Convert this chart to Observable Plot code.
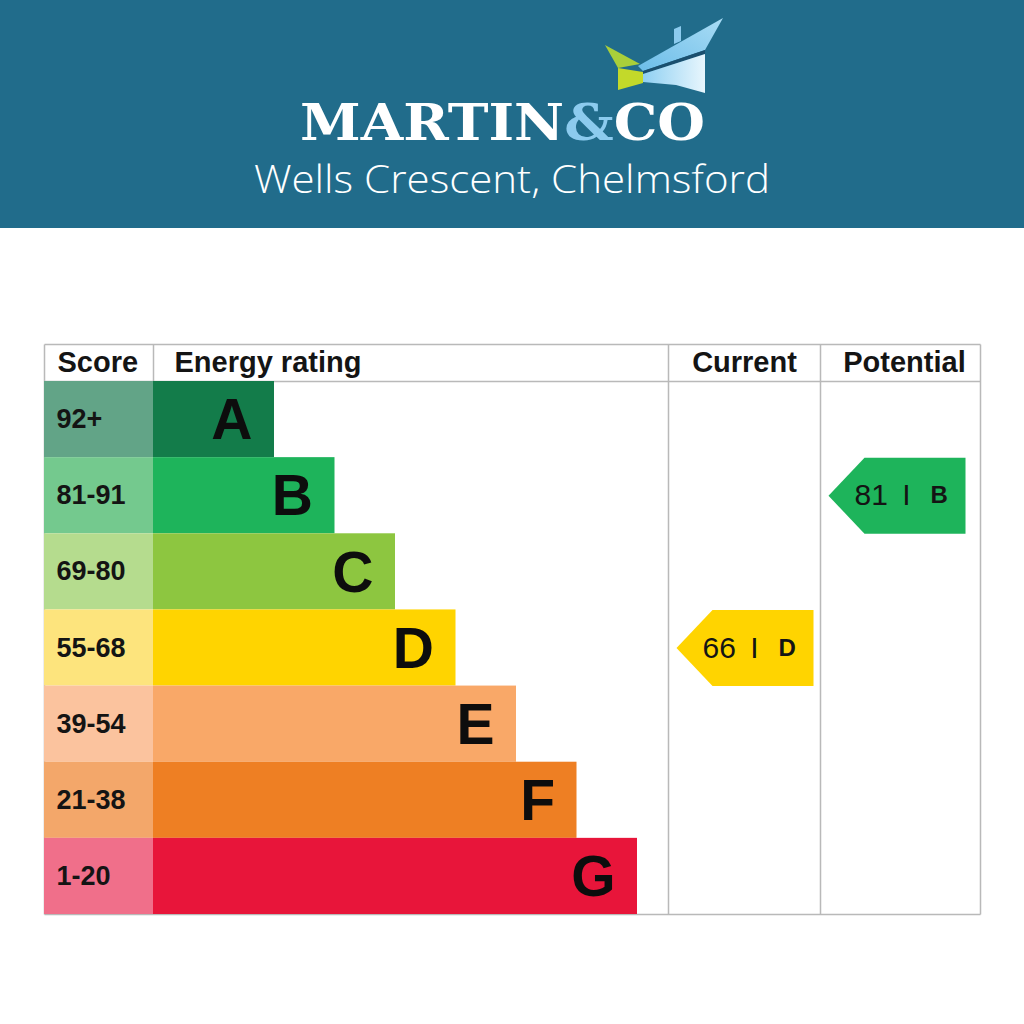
<!DOCTYPE html>
<html>
<head>
<meta charset="utf-8">
<script src="https://cdn.jsdelivr.net/npm/d3@7"></script>
<script src="https://cdn.jsdelivr.net/npm/@observablehq/plot@0.6"></script>
<style>
  html, body { margin: 0; padding: 0; background: #ffffff; }
  #page { width: 1024px; height: 1024px; overflow: hidden; background: #ffffff; }
  #header { position: relative; width: 1024px; height: 228px; background: #216c8b; }
  #header svg { position: absolute; left: 0; top: 0; }
  #chart svg { display: block; }
</style>
</head>
<body>
<div id="page">
  <div id="header">
    <svg width="1024" height="228" viewBox="0 0 1024 228">
      <defs>
        <linearGradient id="bodyGrad" x1="0" y1="0" x2="1" y2="0">
          <stop offset="0" stop-color="#8fd0f2"/>
          <stop offset="1" stop-color="#e8f6fd"/>
        </linearGradient>
        <linearGradient id="roofGrad" x1="0" y1="1" x2="1" y2="0">
          <stop offset="0" stop-color="#6cbde8"/>
          <stop offset="1" stop-color="#a9dcf5"/>
        </linearGradient>
      </defs>
      <!-- green wing -->
      <polygon points="605,45 640,64 618,68" fill="#a9cf3a"/>
      <polygon points="618,68 643,72 643,83 618,90" fill="#c3d92a"/>
      <!-- house -->
      <polygon points="674,44 674,29 681,26 681,41" fill="#8ccbee"/>
      <polygon points="638,66 723,18 705,50 643,71" fill="url(#roofGrad)"/>
      <polygon points="643,71 705,50 705,54 643,74" fill="#1b4f6e"/>
      <polygon points="643,74 705,54 705,93 676,85 643,82" fill="url(#bodyGrad)"/>
      <text x="300" y="140" textLength="405" lengthAdjust="spacingAndGlyphs"
            font-family="DejaVu Serif, serif" font-weight="bold" font-size="51" fill="#ffffff">MARTIN<tspan fill="#8ccbee">&amp;</tspan>CO</text>
      <text x="254" y="193" textLength="516" lengthAdjust="spacingAndGlyphs"
            font-family="'Open Sans', Lato, sans-serif" font-weight="300" font-size="39" fill="#ffffff">Wells Crescent, Chelmsford</text>
    </svg>
  </div>
  <div id="chart"></div>
</div>
<script>
// ---------- data ----------
const bands = ["A", "B", "C", "D", "E", "F", "G"];
const scoreRanges = ["92+", "81-91", "69-80", "55-68", "39-54", "21-38", "1-20"];
const barSteps = [2, 3, 4, 5, 6, 7, 8];           // relative bar length per band
const bandColors = ["#137c4a", "#1eb45b", "#8dc640", "#ffd400", "#f9a868", "#ee7f23", "#e8153a"];
const scoreColors = ["#62a487", "#74c98e", "#b5dc8e", "#fde47d", "#fbc39e", "#f3a76a", "#f06f8a"];
const headerLabels = ["Score", "Energy rating", "Current", "Potential"];
const currentRating = {score: 66, band: "D"};
const potentialRating = {score: 81, band: "B"};

// ---------- layout ----------
const W = 1024, H = 796;
const tableLeft = 44, barX0 = 153, unit = 60.5;
const currentLeft = 668, potentialLeft = 820, tableRight = 980;
const headerTop = -37 / 76.14;   // header row height in row units
const lineColor = "#b9b9b9";
const textColor = "#141414";
const font = "'Liberation Sans', Arial, Helvetica, sans-serif";

const rows = bands.map((b, i) => ({
  band: b, range: scoreRanges[i], row: i,
  barEnd: barX0 + barSteps[i] * unit,
  fill: bandColors[i], scoreFill: scoreColors[i]
}));

const headerLeft = [
  {label: headerLabels[0], x: tableLeft + 13},
  {label: headerLabels[1], x: barX0 + 21}
];
const headerCentered = [
  {label: headerLabels[2], x: (currentLeft + potentialLeft) / 2},
  {label: headerLabels[3], x: (potentialLeft + tableRight) / 2 + 4}
];

function arrowFor(rating, colLeft, id) {
  const r = bands.indexOf(rating.band);
  const tip = colLeft + 8, rl = tip + 36, rr = tip + 137;
  const color = bandColors[r];
  return {
    id, color, r, rl,
    pts: [
      {x: tip, y: r + 0.5}, {x: rl, y: r}, {x: rr, y: r},
      {x: rr, y: r + 1}, {x: rl, y: r + 1}
    ],
    score: rating.score, band: rating.band
  };
}
const arrows = [
  arrowFor(currentRating, currentLeft, "current"),
  arrowFor(potentialRating, potentialLeft, "potential")
];

// grid lines
const hLines = [
  {x1: tableLeft, x2: tableRight, y: headerTop},
  {x1: tableLeft, x2: tableRight, y: 0},
  {x1: tableLeft, x2: tableRight, y: 7}
];
const vLines = [
  {x: tableLeft, y1: headerTop, y2: 7},
  {x: barX0, y1: headerTop, y2: 0},
  {x: currentLeft, y1: headerTop, y2: 7},
  {x: potentialLeft, y1: headerTop, y2: 7},
  {x: tableRight, y1: headerTop, y2: 7}
];

const marks = [
  Plot.link(hLines, {x1: "x1", x2: "x2", y1: "y", y2: "y", stroke: lineColor, strokeWidth: 1.5}),
  Plot.link(vLines, {x1: "x", x2: "x", y1: "y1", y2: "y2", stroke: lineColor, strokeWidth: 1.5}),
  // score cells
  Plot.rect(rows, {x1: tableLeft, x2: barX0, y1: "row", y2: d => d.row + 1, fill: "scoreFill"}),
  // band bars
  Plot.rect(rows, {x1: barX0, x2: "barEnd", y1: "row", y2: d => d.row + 1, fill: "fill"}),
  // score labels
  Plot.text(rows, {x: tableLeft + 12, y: d => d.row + 0.5, text: "range", textAnchor: "start",
    fontSize: 27, fontWeight: "bold", fill: textColor, fontFamily: font}),
  // band letters
  Plot.text(rows, {x: d => d.barEnd - 22, y: d => d.row + 0.52, text: "band", textAnchor: "end",
    fontSize: 57, fontWeight: "bold", fill: "#0d0d0d", fontFamily: font}),
  // header labels
  Plot.text(headerLeft, {x: "x", y: headerTop / 2, text: "label", textAnchor: "start",
    fontSize: 29, fontWeight: "bold", fill: textColor, fontFamily: font}),
  Plot.text(headerCentered, {x: "x", y: headerTop / 2, text: "label", textAnchor: "middle",
    fontSize: 29, fontWeight: "bold", fill: textColor, fontFamily: font}),
];

for (const a of arrows) {
  marks.push(Plot.line(a.pts, {x: "x", y: "y", fill: a.color, stroke: "none", curve: "linear-closed"}));
  marks.push(Plot.text([a], {x: d => d.rl - 10, y: d => d.r + 0.5, text: d => String(d.score),
    textAnchor: "start", fontSize: 30, fill: textColor, fontFamily: font}));
  marks.push(Plot.text([a], {x: d => d.rl + 42, y: d => d.r + 0.5, text: () => "I",
    textAnchor: "middle", fontSize: 30, fill: textColor, fontFamily: font}));
  marks.push(Plot.text([a], {x: d => d.rl + 66, y: d => d.r + 0.5, text: "band",
    textAnchor: "start", fontSize: 24, fontWeight: "bold", fill: textColor, fontFamily: font}));
}

const chart = Plot.plot({
  width: W, height: H,
  margin: 0,
  x: {type: "linear", domain: [0, W], range: [0, W], axis: null},
  y: {type: "linear", domain: [0, 7], range: [381 - 228, 914 - 228], axis: null},
  style: {background: "#ffffff", fontFamily: font},
  marks
});
document.getElementById("chart").appendChild(chart);
</script>
</body>
</html>
